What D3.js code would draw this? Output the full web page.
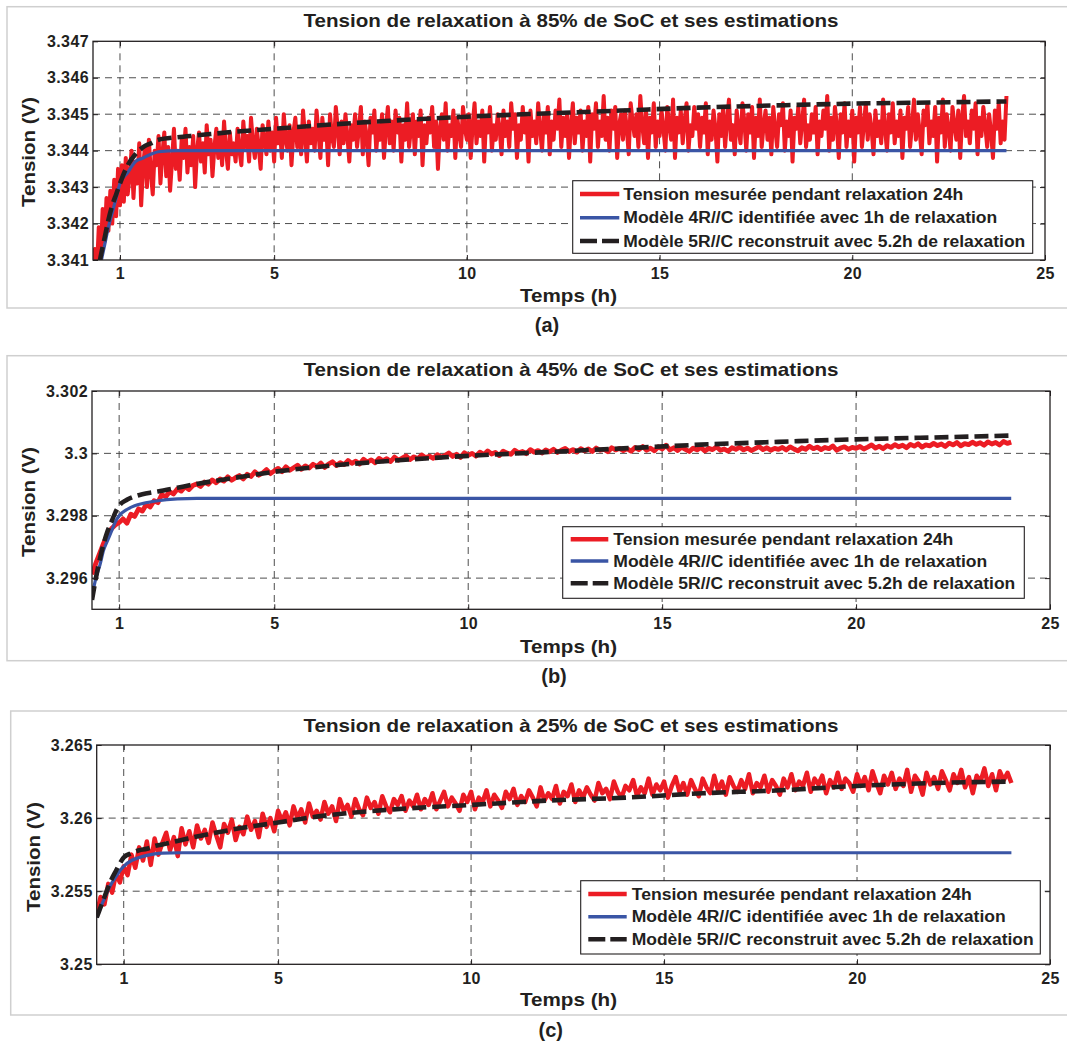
<!DOCTYPE html>
<html><head><meta charset="utf-8">
<script src="https://cdn.jsdelivr.net/npm/d3@7"></script>
<style>
html,body{margin:0;padding:0;background:#fff;}
svg{display:block;}
text{font-family:"Liberation Sans",Arial,Helvetica,sans-serif;font-weight:bold;fill:#231f20;}
</style></head><body>
<svg id="chart" width="1067" height="1043"></svg>
<script>
// ---------------- DATA ----------------
const xDomain = [0.3, 25];
const xTicks = [1, 5, 10, 15, 20, 25];
const xTickLabels = ["1", "5", "10", "15", "20", "25"];
const xLabel = "Temps (h)";
const yLabel = "Tension (V)";
const titles = [
  "Tension de relaxation à 85% de SoC et ses estimations",
  "Tension de relaxation à 45% de SoC et ses estimations",
  "Tension de relaxation à 25% de SoC et ses estimations"
];
const panelTags = ["(a)", "(b)", "(c)"];
const legendLabels = [
  "Tension mesurée pendant relaxation 24h",
  "Modèle 4R//C identifiée avec 1h de relaxation",
  "Modèle 5R//C reconstruit avec 5.2h de relaxation"
];

const yDomainA = [3.341, 3.347];
const yTicksA = [3.341, 3.342, 3.343, 3.344, 3.345, 3.346, 3.347];
const yTickLabelsA = ["3.341", "3.342", "3.343", "3.344", "3.345", "3.346", "3.347"];
const yDomainB = [3.295, 3.302];
const yTicksB = [3.296, 3.298, 3.300, 3.302];
const yTickLabelsB = ["3.296", "3.298", "3.3", "3.302"];
const yDomainC = [3.25, 3.265];
const yTicksC = [3.250, 3.255, 3.260, 3.265];
const yTickLabelsC = ["3.25", "3.255", "3.26", "3.265"];

// measured series: sampled from 0.3 h to 24 h
const redStart = 0.3;
const redStepA = 0.05, redStepB = 0.1, redStepC = 0.1;
const redA = [
  3.3404, 3.3413, 3.3407, 3.3419, 3.3411, 3.3424, 3.3415, 3.3427, 3.3418, 3.3429, 3.3420, 3.3432, 3.3422, 3.3435, 3.3425,
  3.3436, 3.3426, 3.3438, 3.3428, 3.3433, 3.3440, 3.3427, 3.3437, 3.3431, 3.3442, 3.3425, 3.3436, 3.3441, 3.3430, 3.3443, 3.3434, 3.3428, 3.3440, 3.3436, 3.3444,
  3.3431, 3.3439, 3.3445, 3.3433, 3.3441, 3.3429, 3.3437, 3.3446, 3.3435, 3.3440, 3.3432, 3.3443, 3.3438, 3.3446, 3.3434, 3.3441, 3.3436, 3.3444, 3.3430, 3.3440,
  3.3445, 3.3437, 3.3442, 3.3434, 3.3447, 3.3439, 3.3443, 3.3433, 3.3441, 3.3446, 3.3438, 3.3444, 3.3436, 3.3448, 3.3440, 3.3435, 3.3445, 3.3439, 3.3442, 3.3437,
  3.3446, 3.3440, 3.3436, 3.3448, 3.3441, 3.3444, 3.3437, 3.3449, 3.3442, 3.3438, 3.3446, 3.3441, 3.3435, 3.3447, 3.3443, 3.3439, 3.3448, 3.3440, 3.3445, 3.3437,
  3.3449, 3.3442, 3.3446, 3.3438, 3.3450, 3.3443, 3.3440, 3.3447, 3.3436, 3.3445, 3.3449, 3.3441, 3.3446, 3.3439, 3.3451, 3.3444, 3.3437, 3.3448, 3.3442, 3.3446,
  3.3440, 3.3451, 3.3445, 3.3438, 3.3449, 3.3443, 3.3447, 3.3436, 3.3450, 3.3444, 3.3441, 3.3452, 3.3446, 3.3439, 3.3448, 3.3442, 3.3450, 3.3444, 3.3437, 3.3447,
  3.3443, 3.3450, 3.3441, 3.3446, 3.3452, 3.3439, 3.3448, 3.3444, 3.3436, 3.3449, 3.3445, 3.3451, 3.3440, 3.3447, 3.3443, 3.3450, 3.3438, 3.3446, 3.3452, 3.3442,
  3.3448, 3.3440, 3.3451, 3.3445, 3.3449, 3.3437, 3.3447, 3.3443, 3.3453, 3.3441, 3.3446, 3.3450, 3.3439, 3.3448, 3.3444, 3.3451, 3.3436, 3.3447, 3.3442, 3.3449,
  3.3445, 3.3452, 3.3441, 3.3448, 3.3435, 3.3446, 3.3450, 3.3443, 3.3453, 3.3440, 3.3447, 3.3444, 3.3451, 3.3438, 3.3449, 3.3445, 3.3441, 3.3452, 3.3446, 3.3443,
  3.3450, 3.3438, 3.3447, 3.3453, 3.3442, 3.3448, 3.3444, 3.3451, 3.3437, 3.3449, 3.3445, 3.3452, 3.3440, 3.3447, 3.3443, 3.3450, 3.3446, 3.3439, 3.3451, 3.3444,
  3.3448, 3.3441, 3.3453, 3.3446, 3.3450, 3.3438, 3.3447, 3.3443, 3.3452, 3.3445, 3.3449, 3.3437, 3.3451, 3.3444, 3.3448, 3.3442, 3.3453, 3.3446, 3.3440, 3.3450,
  3.3445, 3.3452, 3.3439, 3.3448, 3.3443, 3.3451, 3.3446, 3.3454, 3.3441, 3.3449, 3.3444, 3.3450, 3.3438, 3.3447, 3.3453, 3.3442, 3.3449, 3.3445, 3.3451, 3.3440,
  3.3448, 3.3444, 3.3452, 3.3437, 3.3450, 3.3446, 3.3453, 3.3441, 3.3448, 3.3444, 3.3455, 3.3443, 3.3449, 3.3440, 3.3451, 3.3446, 3.3452, 3.3438, 3.3447, 3.3450,
  3.3443, 3.3451, 3.3446, 3.3439, 3.3453, 3.3448, 3.3444, 3.3450, 3.3441, 3.3455, 3.3447, 3.3442, 3.3451, 3.3438, 3.3449, 3.3445, 3.3453, 3.3441, 3.3448, 3.3444,
  3.3451, 3.3446, 3.3440, 3.3452, 3.3447, 3.3443, 3.3454, 3.3438, 3.3449, 3.3445, 3.3451, 3.3442, 3.3448, 3.3453, 3.3440, 3.3447, 3.3444, 3.3452, 3.3446, 3.3450,
  3.3441, 3.3449, 3.3445, 3.3453, 3.3439, 3.3448, 3.3443, 3.3451, 3.3446, 3.3437, 3.3450, 3.3444, 3.3452, 3.3441, 3.3448, 3.3454, 3.3443, 3.3447, 3.3439, 3.3451,
  3.3446, 3.3442, 3.3453, 3.3448, 3.3440, 3.3450, 3.3445, 3.3452, 3.3438, 3.3449, 3.3444, 3.3454, 3.3441, 3.3447, 3.3451, 3.3443, 3.3449, 3.3439, 3.3452, 3.3446,
  3.3441, 3.3450, 3.3447, 3.3453, 3.3440, 3.3448, 3.3444, 3.3451, 3.3437, 3.3449, 3.3446, 3.3452, 3.3442, 3.3448, 3.3454, 3.3441, 3.3447, 3.3443, 3.3450, 3.3445,
  3.3452, 3.3439, 3.3448, 3.3444, 3.3451, 3.3446, 3.3455, 3.3440, 3.3449, 3.3443, 3.3452, 3.3447, 3.3438, 3.3450, 3.3445, 3.3453, 3.3441, 3.3448, 3.3444, 3.3451,
  3.3437, 3.3449, 3.3445, 3.3452, 3.3441, 3.3447, 3.3453, 3.3443, 3.3450, 3.3446, 3.3439, 3.3451, 3.3444, 3.3448, 3.3442, 3.3454, 3.3446, 3.3440, 3.3450, 3.3445,
  3.3453, 3.3442, 3.3448, 3.3444, 3.3451, 3.3438, 3.3449, 3.3446, 3.3452, 3.3441, 3.3447, 3.3454, 3.3443, 3.3450, 3.3445, 3.3439, 3.3451, 3.3447, 3.3453, 3.3442,
  3.3448, 3.3444, 3.3452, 3.3437, 3.3449, 3.3445, 3.3454, 3.3441, 3.3450, 3.3446, 3.3440, 3.3452, 3.3447, 3.3443, 3.3451, 3.3438, 3.3449, 3.3455, 3.3444, 3.3448,
  3.3442, 3.3451, 3.3446, 3.3453, 3.3439, 3.3449, 3.3444, 3.3452, 3.3447, 3.3441, 3.3450, 3.3445, 3.3438, 3.3451, 3.3446, 3.3453, 3.3442, 3.3448, 3.3443, 3.3455
];
const redB = [
  3.29612, 3.29648, 3.29680, 3.29712, 3.29740, 3.29758, 3.29770, 3.29778,
  3.29790, 3.29776, 3.29805, 3.29798, 3.29822, 3.29815, 3.29836, 3.29828, 3.29848, 3.29842,
  3.29868, 3.29861, 3.29877, 3.29870, 3.29886, 3.29879, 3.29893, 3.29884, 3.29897, 3.29902,
  3.29894, 3.29908, 3.29901, 3.29915, 3.29906, 3.29918, 3.29911, 3.29925, 3.29914, 3.29922,
  3.29929, 3.29918, 3.29933, 3.29926, 3.29941, 3.29930, 3.29937, 3.29948, 3.29935, 3.29944,
  3.29952, 3.29941, 3.29957, 3.29946, 3.29954, 3.29962, 3.29949, 3.29960, 3.29953, 3.29965,
  3.29958, 3.29969, 3.29955, 3.29966, 3.29973, 3.29961, 3.29970, 3.29964, 3.29977, 3.29968,
  3.29975, 3.29966, 3.29981, 3.29972, 3.29979, 3.29970, 3.29984, 3.29976, 3.29983, 3.29974,
  3.29988, 3.29978, 3.29985, 3.29992, 3.29980, 3.29989, 3.29983, 3.29995, 3.29986, 3.29991,
  3.29984, 3.29996, 3.29988, 3.29993, 3.30001, 3.29990, 3.29997, 3.29987, 3.30002, 3.29994,
  3.30000, 3.29991, 3.30004, 3.29996, 3.30008, 3.29998, 3.30003, 3.29993, 3.30007, 3.30001,
  3.29997, 3.30010, 3.30002, 3.30006, 3.29999, 3.30012, 3.30004, 3.30009, 3.30001, 3.30011,
  3.30005, 3.30013, 3.30003, 3.30010, 3.30016, 3.30006, 3.30012, 3.30004, 3.30015, 3.30008,
  3.30014, 3.30006, 3.30017, 3.30010, 3.30013, 3.30005, 3.30018, 3.30011, 3.30016, 3.30009,
  3.30015, 3.30007, 3.30019, 3.30012, 3.30022, 3.30010, 3.30017, 3.30008, 3.30021, 3.30014,
  3.30026, 3.30011, 3.30018, 3.30009, 3.30020, 3.30013, 3.30006, 3.30017, 3.30011, 3.30019,
  3.30008, 3.30016, 3.30012, 3.30021, 3.30010, 3.30014, 3.30007, 3.30018, 3.30013, 3.30020,
  3.30011, 3.30017, 3.30009, 3.30015, 3.30022, 3.30012, 3.30018, 3.30010, 3.30016, 3.30013,
  3.30019, 3.30011, 3.30021, 3.30014, 3.30008, 3.30018, 3.30013, 3.30023, 3.30015, 3.30020,
  3.30012, 3.30019, 3.30015, 3.30024, 3.30010, 3.30017, 3.30021, 3.30013, 3.30019, 3.30016,
  3.30022, 3.30014, 3.30020, 3.30027, 3.30017, 3.30023, 3.30015, 3.30025, 3.30019, 3.30028,
  3.30021, 3.30026, 3.30018, 3.30029, 3.30023, 3.30031, 3.30020, 3.30027, 3.30024, 3.30032,
  3.30025, 3.30030, 3.30022, 3.30033, 3.30027, 3.30035, 3.30024, 3.30031, 3.30028, 3.30036,
  3.30029, 3.30034, 3.30026, 3.30037, 3.30030, 3.30035, 3.30027, 3.30038, 3.30032, 3.30036
];
const redC = [
  3.2534, 3.2546, 3.2541, 3.2555, 3.2549, 3.2562, 3.2556, 3.2567,
  3.2561, 3.2575, 3.2566, 3.2580, 3.2571, 3.2584, 3.2568, 3.2586, 3.2575, 3.2583,
  3.2590, 3.2578, 3.2587, 3.2574, 3.2593, 3.2582, 3.2591, 3.2580, 3.2595, 3.2586,
  3.2592, 3.2583, 3.2597, 3.2588, 3.2580, 3.2596, 3.2590, 3.2599, 3.2585, 3.2594,
  3.2589, 3.2601, 3.2592, 3.2598, 3.2587, 3.2603, 3.2594, 3.2600, 3.2591, 3.2605,
  3.2598, 3.2604, 3.2595, 3.2608, 3.2600, 3.2606, 3.2597, 3.2610, 3.2601, 3.2605,
  3.2599, 3.2611, 3.2603, 3.2608, 3.2598, 3.2613, 3.2605, 3.2609, 3.2601, 3.2613,
  3.2606, 3.2602, 3.2614, 3.2607, 3.2611, 3.2603, 3.2615, 3.2608, 3.2604, 3.2613,
  3.2609, 3.2615, 3.2605, 3.2612, 3.2608, 3.2616, 3.2606, 3.2613, 3.2609, 3.2617,
  3.2606, 3.2612, 3.2618, 3.2608, 3.2614, 3.2610, 3.2605, 3.2616, 3.2611, 3.2618,
  3.2606, 3.2614, 3.2611, 3.2619, 3.2608, 3.2616, 3.2612, 3.2607, 3.2618, 3.2613,
  3.2620, 3.2609, 3.2615, 3.2611, 3.2619, 3.2614, 3.2608, 3.2621, 3.2612, 3.2617,
  3.2613, 3.2622, 3.2610, 3.2618, 3.2615, 3.2623, 3.2611, 3.2619, 3.2614, 3.2621,
  3.2616, 3.2612, 3.2624, 3.2617, 3.2620, 3.2613, 3.2625, 3.2618, 3.2614, 3.2622,
  3.2619, 3.2626, 3.2615, 3.2621, 3.2617, 3.2627, 3.2616, 3.2623, 3.2619, 3.2625,
  3.2614, 3.2622, 3.2628, 3.2618, 3.2624, 3.2616, 3.2626, 3.2620, 3.2615, 3.2627,
  3.2621, 3.2617, 3.2629, 3.2619, 3.2625, 3.2616, 3.2628, 3.2622, 3.2618, 3.2626,
  3.2620, 3.2630, 3.2617, 3.2624, 3.2621, 3.2629, 3.2618, 3.2626, 3.2622, 3.2616,
  3.2627, 3.2621, 3.2630, 3.2619, 3.2625, 3.2622, 3.2631, 3.2618, 3.2627, 3.2623,
  3.2629, 3.2617, 3.2626, 3.2621, 3.2631, 3.2620, 3.2627, 3.2624, 3.2618, 3.2630,
  3.2622, 3.2628, 3.2619, 3.2632, 3.2624, 3.2617, 3.2629, 3.2623, 3.2631, 3.2620,
  3.2627, 3.2622, 3.2633, 3.2618, 3.2629, 3.2625, 3.2616, 3.2631, 3.2623, 3.2628,
  3.2620, 3.2632, 3.2626, 3.2619, 3.2630, 3.2624, 3.2633, 3.2621, 3.2628, 3.2617,
  3.2629, 3.2625, 3.2634, 3.2622, 3.2630, 3.2619, 3.2632, 3.2626, 3.2631, 3.2624
];

// model curves, read at these times (h)
const modelTimes = [0.3, 0.4, 0.5, 0.6, 0.7, 0.8, 0.9, 1.0, 1.2, 1.4, 1.6, 1.8, 2.0,
  2.5, 3, 4, 5, 6, 8, 10, 12, 14, 16, 18, 20, 22, 24];
const blueA = [3.3396, 3.3403, 3.3409, 3.3414, 3.3419, 3.3423, 3.3427, 3.3431, 3.3434, 3.3437,
  3.3438, 3.3439, 3.34397, 3.3440, 3.3440, 3.3440, 3.3440, 3.3440, 3.3440, 3.3440,
  3.3440, 3.3440, 3.3440, 3.3440, 3.3440, 3.3440, 3.3440];
const blackA = [3.3399, 3.3405, 3.3411, 3.3416, 3.3421, 3.3425, 3.3428, 3.3431, 3.3436, 3.3439,
  3.3441, 3.3442, 3.3443, 3.34437, 3.34442, 3.34452, 3.3446, 3.34468, 3.34482, 3.34493,
  3.34502, 3.3451, 3.34518, 3.34524, 3.34529, 3.34532, 3.34535];
const blueB = [3.2954, 3.2960, 3.2964, 3.2969, 3.2972, 3.2975, 3.2978, 3.2980, 3.2982, 3.29832,
  3.29839, 3.29844, 3.29848, 3.29854, 3.29856, 3.29856, 3.29856, 3.29856, 3.29856, 3.29856,
  3.29856, 3.29856, 3.29856, 3.29856, 3.29856, 3.29856, 3.29856];
const blackB = [3.2953, 3.2960, 3.2966, 3.2971, 3.2975, 3.2978, 3.2981, 3.29832, 3.29851, 3.29862,
  3.29869, 3.29874, 3.29878, 3.2989, 3.29902, 3.29922, 3.29941, 3.29955, 3.29976, 3.29992,
  3.30004, 3.30016, 3.30028, 3.30037, 3.30045, 3.30051, 3.30057];
const blueC = [3.2532, 3.2539, 3.2545, 3.2551, 3.2556, 3.2560, 3.2564, 3.2567, 3.2571, 3.2573,
  3.25745, 3.25755, 3.2576, 3.25763, 3.25763, 3.25763, 3.25763, 3.25763, 3.25763, 3.25763,
  3.25763, 3.25763, 3.25763, 3.25763, 3.25763, 3.25763, 3.25763];
const blackC = [3.2532, 3.2539, 3.2546, 3.2553, 3.2559, 3.2564, 3.2569, 3.2573, 3.2576, 3.2578,
  3.2579, 3.2581, 3.2582, 3.2585, 3.2588, 3.2593, 3.2597, 3.2601, 3.2606, 3.2609,
  3.2612, 3.2614, 3.2617, 3.2619, 3.2622, 3.2624, 3.2625];

// ---------------- LAYOUT / STYLE ----------------
const COLORS = { red: "#ec1c24", blue: "#3a55a5", black: "#231f20", grid: "#3a3a3a", frame: "#cfcfcf" };
const layout = [
  { fx: 7, fy: 6.7, fh: 301.3, left: 93, right: 1045, top: 41.3, bottom: 260, redW: 4,
    titleY: 26.7, xLabelY: 302, yLabelX: 35, yLabelY: 152, tagX: 547, tagY: 325,
    lg: { x: 572.7, y: 180.7, w: 460, h: 72.6, rows: [13.3, 37, 60.3], sx: 7.3, sw: 39.3, tx: 50.6 } },
  { fx: 7, fy: 355.7, fh: 305, left: 92, right: 1050, top: 391, bottom: 609.3, redW: 4.8,
    titleY: 376, xLabelY: 652.7, yLabelX: 35, yLabelY: 502, tagX: 554, tagY: 676,
    lg: { x: 562.7, y: 526.7, w: 461.6, h: 71.6, rows: [12.6, 34.3, 56.6], sx: 8, sw: 37.6, tx: 50.6 } },
  { fx: 10.7, fy: 711, fh: 304, left: 96.7, right: 1050, top: 745, bottom: 964.3, redW: 4.5,
    titleY: 731.7, xLabelY: 1005.7, yLabelX: 40, yLabelY: 857, tagX: 550.7, tagY: 1030,
    lg: { x: 580.7, y: 880.7, w: 459.6, h: 73.3, rows: [13.3, 36, 58.6], sx: 7.6, sw: 38.4, tx: 51 } }
];
const legendTextWidths = [340, 374, 402];

const panels = [
  { red: redA, step: redStepA, blue: blueA, black: blackA, yDomain: yDomainA, yTicks: yTicksA, yTickLabels: yTickLabelsA },
  { red: redB, step: redStepB, blue: blueB, black: blackB, yDomain: yDomainB, yTicks: yTicksB, yTickLabels: yTickLabelsB },
  { red: redC, step: redStepC, blue: blueC, black: blackC, yDomain: yDomainC, yTicks: yTicksC, yTickLabels: yTickLabelsC }
];

const svg = d3.select("#chart");
const FONT = '"Liberation Sans", Arial, Helvetica, sans-serif';

panels.forEach((p, k) => {
  const L = layout[k];
  const g = svg.append("g");

  g.append("rect").attr("x", L.fx).attr("y", L.fy).attr("width", 1100).attr("height", L.fh)
    .attr("fill", "none").attr("stroke", COLORS.frame).attr("stroke-width", 1.5);

  const x = d3.scaleLinear().domain(xDomain).range([L.left, L.right]);
  const y = d3.scaleLinear().domain(p.yDomain).range([L.bottom, L.top]);

  const cid = "clip" + k;
  svg.append("defs").append("clipPath").attr("id", cid).append("rect")
    .attr("x", L.left).attr("y", L.top).attr("width", L.right - L.left).attr("height", L.bottom - L.top);

  const grid = g.append("g").attr("stroke", COLORS.grid).attr("stroke-width", 0.9)
    .attr("stroke-dasharray", "7,5").attr("fill", "none");
  xTicks.filter(t => t > xDomain[0] && t < xDomain[1]).forEach(t => {
    grid.append("line").attr("x1", x(t)).attr("x2", x(t)).attr("y1", L.top).attr("y2", L.bottom);
  });
  p.yTicks.filter(t => t > p.yDomain[0] && t < p.yDomain[1]).forEach(t => {
    grid.append("line").attr("y1", y(t)).attr("y2", y(t)).attr("x1", L.left).attr("x2", L.right);
  });

  const plot = g.append("g").attr("clip-path", `url(#${cid})`);
  const lineGen = d3.line().x(d => x(d[0])).y(d => y(d[1]));
  const smooth = d3.line().x(d => x(d[0])).y(d => y(d[1])).curve(d3.curveMonotoneX);
  const redPts = p.red.map((v, i) => [redStart + i * p.step, v]);
  plot.append("path").datum(redPts).attr("d", lineGen).attr("fill", "none")
    .attr("stroke", COLORS.red).attr("stroke-width", L.redW).attr("stroke-linejoin", "round");
  const bluePts = modelTimes.map((t, i) => [t, p.blue[i]]);
  plot.append("path").datum(bluePts).attr("d", smooth).attr("fill", "none")
    .attr("stroke", COLORS.blue).attr("stroke-width", 3.2);
  const blackPts = modelTimes.map((t, i) => [t, p.black[i]]);
  plot.append("path").datum(blackPts).attr("d", smooth).attr("fill", "none")
    .attr("stroke", COLORS.black).attr("stroke-width", 4.6).attr("stroke-dasharray", "14,6");

  const axB = d3.axisBottom(x).tickValues(xTicks).tickFormat((d, i) => xTickLabels[i])
    .tickSizeInner(-5).tickSizeOuter(0).tickPadding(8);
  const axL = d3.axisLeft(y).tickValues(p.yTicks).tickFormat((d, i) => p.yTickLabels[i])
    .tickSizeInner(-5).tickSizeOuter(0).tickPadding(4);
  const axT = d3.axisTop(x).tickValues(xTicks).tickFormat("").tickSizeInner(-5).tickSizeOuter(0);
  const axR = d3.axisRight(y).tickValues(p.yTicks).tickFormat("").tickSizeInner(-5).tickSizeOuter(0);

  [[axB, `translate(0,${L.bottom})`], [axL, `translate(${L.left},0)`],
   [axT, `translate(0,${L.top})`], [axR, `translate(${L.right},0)`]].forEach(([ax, tr]) => {
    const ag = g.append("g").attr("transform", tr).call(ax);
    ag.select(".domain").remove();
    ag.selectAll(".tick line").attr("stroke", COLORS.black).attr("stroke-width", 1);
    ag.selectAll("text").attr("font-family", FONT).attr("font-weight", "bold")
      .attr("font-size", 16).attr("fill", COLORS.black).style("letter-spacing", "0.4px");
  });

  g.append("rect").attr("x", L.left).attr("y", L.top).attr("width", L.right - L.left)
    .attr("height", L.bottom - L.top).attr("fill", "none").attr("stroke", COLORS.black).attr("stroke-width", 1.3);

  g.append("text").attr("x", 571).attr("y", L.titleY).attr("text-anchor", "middle")
    .attr("font-size", 18.5).attr("textLength", 535).attr("lengthAdjust", "spacingAndGlyphs")
    .text(titles[k]);
  g.append("text").attr("x", 568.5).attr("y", L.xLabelY).attr("text-anchor", "middle")
    .attr("font-size", 19).attr("textLength", 97).attr("lengthAdjust", "spacingAndGlyphs")
    .text(xLabel);
  g.append("text").attr("transform", `translate(${L.yLabelX},${L.yLabelY}) rotate(-90)`)
    .attr("text-anchor", "middle").attr("font-size", 19).attr("textLength", 110)
    .attr("lengthAdjust", "spacingAndGlyphs").text(yLabel);
  g.append("text").attr("x", L.tagX).attr("y", L.tagY).attr("dy", "0.36em").attr("text-anchor", "middle")
    .attr("font-family", "Lato, 'Open Sans', sans-serif").attr("font-size", 20).text(panelTags[k]);

  const lg = g.append("g").attr("transform", `translate(${L.lg.x},${L.lg.y})`);
  lg.append("rect").attr("width", L.lg.w).attr("height", L.lg.h).attr("fill", "#fff")
    .attr("stroke", COLORS.black).attr("stroke-width", 1.1);
  const styles = [
    { c: COLORS.red, w: 4.5, dash: null },
    { c: COLORS.blue, w: 3.6, dash: null },
    { c: COLORS.black, w: 4.6, dash: "17,5" }
  ];
  legendLabels.forEach((lab, i) => {
    const yy = L.lg.rows[i];
    const ln = lg.append("line").attr("x1", L.lg.sx).attr("x2", L.lg.sx + L.lg.sw)
      .attr("y1", yy).attr("y2", yy).attr("stroke", styles[i].c).attr("stroke-width", styles[i].w);
    if (styles[i].dash) ln.attr("stroke-dasharray", styles[i].dash);
    lg.append("text").attr("x", L.lg.tx).attr("y", yy).attr("dy", "0.36em")
      .attr("font-size", 16).attr("textLength", legendTextWidths[i]).attr("lengthAdjust", "spacingAndGlyphs")
      .text(lab);
  });
});
</script>
</body></html>
